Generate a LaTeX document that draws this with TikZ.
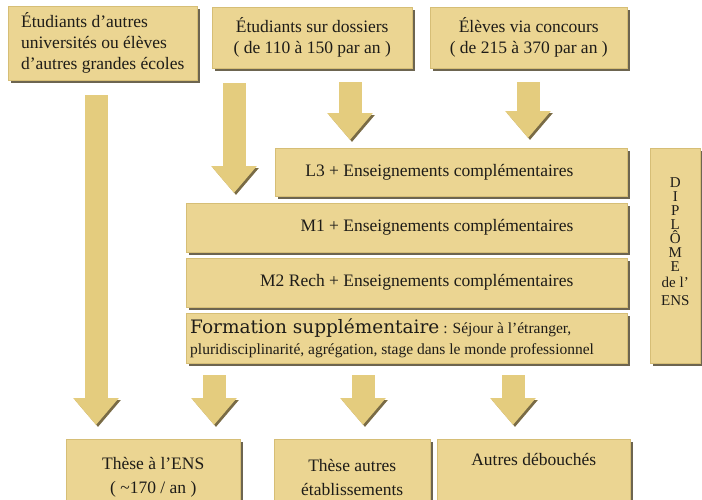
\documentclass[tikz,border=0pt]{standalone}
\usepackage{fontspec}
\setmainfont{Liberation Serif}
\newfontfamily\wideserif{DejaVu Serif}
\usetikzlibrary{positioning,shadows,arrows.meta}
\definecolor{boxtan}{RGB}{235,213,146}
\definecolor{boxedge}{RGB}{214,190,118}
\definecolor{arrowtan}{RGB}{228,204,126}
\definecolor{shadowbrown}{RGB}{72,62,36}
\definecolor{inkgrey}{RGB}{30,28,24}
\tikzset
{
    stage/.style   = {rectangle, fill=boxtan, draw=boxedge, line width=0.5pt, inner sep=0pt, anchor=north west, align=center, text=inkgrey, font=\fontsize{17.5}{21}\selectfont, drop shadow={shadow xshift=2.5pt, shadow yshift=-2.5pt, fill=shadowbrown, opacity=0.8}},
    caption/.style = {inner sep=0pt, text=inkgrey, font=\fontsize{17.5}{21}\selectfont},
    flow/.style    = {line width=23pt, draw=arrowtan, -{Triangle[width=44pt, length=27pt]}, preaction={draw=shadowbrown!70!boxtan, transform canvas={shift={(2pt,-2pt)}}}}
}

\begin{document}
\begin{tikzpicture}[x=1pt, y=-1pt]
   \useasboundingbox (0,0) rectangle (702,499);

   % entrees
   \node (univ)     [stage, minimum width=189pt, minimum height=74pt, align=left] at (8,6)   {Étudiants d’autres\\universités ou élèves\\d’autres grandes écoles};
   \node (dossiers) [stage, minimum width=200pt, minimum height=61pt]             at (212,7) {Étudiants sur dossiers\\( de 110 à 150 par an )};
   \node (concours) [stage, minimum width=197pt, minimum height=61pt]             at (430,7) {Élèves via concours\\( de 215 à 370 par an )};

   % cursus
   \node (l3)        [stage, minimum width=352pt, minimum height=48pt]  at (275,148) {};
   \node (m1)        [stage, minimum width=441pt, minimum height=49pt]  at (186,203) {};
   \node (m2)        [stage, minimum width=441pt, minimum height=49pt]  at (186,258) {};
   \node (formation) [stage, minimum width=441pt, minimum height=50pt]  at (186,313) {};
   \node (diplome)   [stage, minimum width=50pt,  minimum height=215pt] at (650,148) {};

   \node (l3txt)   [caption, left=54pt of l3.east] {L3 + Enseignements complémentaires};
   \node (m1txt)   [caption, left=54pt of m1.east] {M1 + Enseignements complémentaires};
   \node (m2txt)   [caption, left=54pt of m2.east] {M2 Rech + Enseignements complémentaires};
   \node (formtxt) [caption, align=left, right=4pt of formation.west]
      {{\wideserif\fontsize{18.5}{21}\selectfont Formation supplémentaire}{\fontsize{15.5}{21}\selectfont\ : Séjour à l’étranger,}\\
       {\fontsize{15.5}{21}\selectfont pluridisciplinarité, agrégation, stage dans le monde professionnel}};
   \node (diptxt)  [caption, align=center, font=\fontsize{15}{14}\selectfont] at ([yshift=14pt]diplome.center) {D\\I\\P\\L\\Ô\\M\\E\\[2pt]de l’\\[4pt]ENS};

   % sorties
   \node (theseens)    [stage, minimum width=174pt, minimum height=76pt, font=\fontsize{17.5}{24}\selectfont] at (66,439)  {Thèse à l’ENS\\( \textasciitilde170 / an )};
   \node (theseautres) [stage, minimum width=156pt, minimum height=76pt, font=\fontsize{17.5}{24}\selectfont] at (274,439) {Thèse autres\\établissements};
   \node (debouches)   [stage, minimum width=193pt, minimum height=76pt]  at (437,439) {};
   \node (debtxt)      [caption, below=14pt of debouches.north] {Autres débouchés};

   % fleches
   \coordinate (ua) at (96,95);   \coordinate (ub) at (96,425);
   \coordinate (da) at (234,83);  \coordinate (db) at (234,193);
   \coordinate (dc) at (350,82);  \coordinate (dd) at (350,140);
   \coordinate (ca) at (528,82);  \coordinate (cb) at (528,138);
   \coordinate (fa) at (214,375); \coordinate (fb) at (214,425);
   \coordinate (fc) at (363,375); \coordinate (fd) at (363,425);
   \coordinate (fe) at (513,375); \coordinate (ff) at (513,425);

   \draw[flow] (ua) -- (ub);
   \draw[flow] (da) -- (db);
   \draw[flow] (dc) -- (dd);
   \draw[flow] (ca) -- (cb);
   \draw[flow] (fa) -- (fb);
   \draw[flow] (fc) -- (fd);
   \draw[flow] (fe) -- (ff);
\end{tikzpicture}
\end{document}
